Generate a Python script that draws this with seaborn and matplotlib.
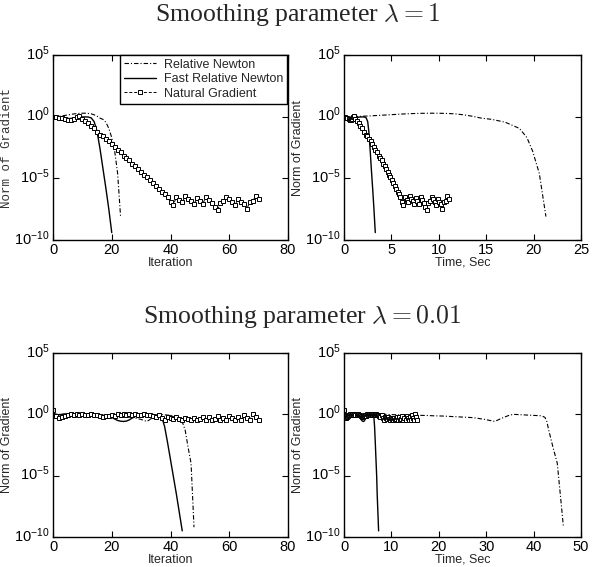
import numpy as np
import pandas as pd
import seaborn as sns
import matplotlib
matplotlib.use("Agg")
import matplotlib.pyplot as plt
from matplotlib.ticker import NullLocator, FixedLocator
from matplotlib.transforms import ScaledTranslation

# ---------------- data (log10 of gradient norm) ----------------
# lambda = 1
rn1_log = [0, 0.01, 0.03, 0.06, 0.1, 0.14, 0.18, 0.22, 0.25, 0.27, 0.28, 0.28, 0.26, 0.23,
           0.15, 0.04, -0.12, -0.22, -0.45, -0.95, -1.7, -2.8, -4.6, -8.1]
rn1_time = [0, 0.9, 1.8, 2.7, 3.6, 4.5, 5.4, 6.3, 7.2, 8.1, 9.0, 9.9, 10.8, 11.7,
            12.6, 13.5, 14.5, 15.6, 17.0, 18.5, 19.3, 19.9, 20.6, 21.3]
frn1_log = [0, -0.03, -0.06, -0.1, -0.13, -0.15, -0.15, -0.12, -0.06, -0.03, -0.02,
            -0.02, -0.03, -0.1, -0.4, -1.2, -2.6, -4.2, -5.8, -7.5, -9.4]
frn1_time = [0, 0.18, 0.36, 0.54, 0.72, 0.9, 1.08, 1.26, 1.44, 1.62, 1.8, 1.98, 2.16,
             2.34, 2.5, 2.62, 2.75, 2.88, 3.02, 3.16, 3.3]
ng1_log = [0, -0.05, -0.08, -0.12, -0.2, -0.25, -0.3, -0.2, -0.05, 0.05, -0.15, -0.35,
           -0.55, -0.75, -0.95, -1.25, -1.45, -1.6, -1.8, -2.0, -2.25, -2.45, -2.7, -2.9,
           -3.15, -3.35, -3.55, -3.8, -4.0, -4.25, -4.45, -4.7, -4.9, -5.15, -5.4, -5.6,
           -5.85, -6.1, -6.3, -6.55, -6.9, -7.15, -6.5, -6.75, -6.95, -6.45, -6.7, -6.85,
           -7.1, -6.6, -6.85, -7.05, -6.55, -6.75, -7.0, -7.3, -7.6, -7.0, -6.85, -6.55,
           -6.7, -6.9, -7.15, -6.65, -6.95, -7.1, -7.45, -6.95, -6.85, -6.45, -6.65]
ng1_time = [0, 0.12, 0.24, 0.36, 0.48, 0.6, 0.72, 0.84, 0.96, 1.08, 1.2,
            1.38, 1.56, 1.74, 1.92, 2.1, 2.28, 2.46, 2.64, 2.82, 3.0,
            3.16, 3.32, 3.48, 3.64, 3.8, 3.96, 4.12, 4.28, 4.44, 4.6,
            4.75, 4.9, 5.05, 5.2, 5.35, 5.5, 5.65, 5.8, 5.95, 6.1,
            6.27, 6.43, 6.6, 6.76, 6.93, 7.09, 7.26, 7.42, 7.59, 7.75,
            7.92, 8.08, 8.25, 8.41, 8.58, 8.74, 8.91, 9.07, 9.24, 9.4,
            9.57, 9.73, 9.9, 10.06, 10.23, 10.39, 10.56, 10.72, 10.89, 11.05]

# lambda = 0.01
rn2_log = [0.1, 0.02, 0.0, 0.0, 0.02, 0.02, 0.02, 0.01, 0.0, 0.0, -0.02, -0.03, -0.04,
           -0.05, -0.06, -0.07, -0.08, -0.09, -0.1, -0.12, -0.13, -0.14, -0.16, -0.18,
           -0.2, -0.22, -0.24, -0.26, -0.3, -0.36, -0.42, -0.5, -0.58, -0.42, -0.25, -0.1,
           0.0, -0.02, -0.04, -0.06, -0.08, -0.1, -0.12, -0.25, -0.6, -1.3, -2.7, -4.0, -9.2]
rn2_time = [0, 1.0, 2.0, 3.0, 4.0, 5.0, 6.0, 6.9, 7.9, 8.9, 9.9, 10.9, 11.9, 12.9, 13.9,
            14.9, 15.9, 16.9, 17.9, 18.9, 19.9, 20.9, 21.8, 22.8, 23.8, 24.8, 25.8, 26.8,
            27.8, 28.8, 29.8, 30.8, 31.8, 32.7, 33.7, 34.7, 35.7, 36.7, 37.7, 38.7, 39.7,
            40.7, 41.7, 42.4, 42.8, 43.2, 44.1, 45.0, 46.3]
frn2_log = [0.15, -0.1, -0.05, 0.0, 0.02, 0.0, 0.0, 0.02, 0.0, 0.0, 0.0, 0.0, -0.02, -0.02,
            0.0, -0.03, -0.05, -0.08, -0.1, -0.15, -0.25, -0.38, -0.5, -0.56, -0.58, -0.55,
            -0.45, -0.3, -0.15, -0.05, 0.0, 0.0, 0.0, 0.0, -0.02, -0.05, -0.1, -0.2, -1.0,
            -2.3, -3.7, -5.1, -6.5, -8.0, -9.5]
frn2_time = [0, 0.17, 0.34, 0.51, 0.68, 0.85, 1.02, 1.19, 1.36, 1.53, 1.7, 1.87, 2.04,
             2.21, 2.38, 2.55, 2.72, 2.89, 3.06, 3.23, 3.4, 3.57, 3.74, 3.91, 4.08, 4.25,
             4.42, 4.59, 4.76, 4.93, 5.1, 5.27, 5.44, 5.61, 5.78, 5.95, 6.12, 6.3, 6.45,
             6.6, 6.75, 6.9, 7.0, 7.15, 7.3]
ng2_log = [0.35, -0.1, -0.3, -0.25, -0.1, -0.05, 0.0, -0.05, 0.0, -0.02, 0.0, -0.05, -0.02,
           0.0, -0.05, -0.02, -0.1, -0.2, -0.1, -0.15, -0.05, -0.1, 0.0, -0.05, 0.0, -0.02,
           0.0, -0.05, 0.0, -0.02, -0.05, 0.0, -0.05, -0.02, -0.1, -0.25, -0.05, -0.3,
           -0.45, -0.2, -0.3, -0.4, -0.2, -0.35, -0.45, -0.3, -0.4, -0.45, -0.3, -0.5,
           -0.35, -0.2, -0.45, -0.25, -0.5, -0.4, -0.15, -0.45, -0.3, -0.5, -0.1, -0.3,
           -0.45, -0.2, -0.45, -0.05, -0.3, -0.45, 0.0, -0.2, -0.45]
ng2_time = [0, 0.22, 0.44, 0.66, 0.88, 1.1, 1.32, 1.54, 1.76, 1.98, 2.2, 2.42, 2.64, 2.86,
            3.08, 3.3, 3.52, 3.74, 3.96, 4.18, 4.4, 4.62, 4.84, 5.06, 5.28, 5.5, 5.72, 5.94,
            6.16, 6.38, 6.6, 6.82, 7.04, 7.26, 7.48, 7.7, 7.92, 8.14, 8.36, 8.58, 8.8, 9.02,
            9.24, 9.46, 9.68, 9.9, 10.12, 10.34, 10.56, 10.78, 11.0, 11.22, 11.44, 11.66,
            11.88, 12.1, 12.32, 12.54, 12.76, 12.98, 13.2, 13.42, 13.64, 13.86, 14.08,
            14.3, 14.52, 14.74, 14.96, 15.18, 15.5]

labels = ["Relative Newton", "Fast Relative Newton", "Natural Gradient"]
titles = ["Smoothing parameter $\\lambda = 1$", "Smoothing parameter $\\lambda = 0.01$"]
yticks = [1e-10, 1e-5, 1e0, 1e5]

# ---------------- style ----------------
sns.set_style("ticks")
plt.rcParams.update({
    "font.family": ["Liberation Sans", "DejaVu Sans"],
    "mathtext.fontset": "custom",
    "mathtext.rm": "Liberation Sans",
    "mathtext.it": "Liberation Sans:italic",
    "mathtext.bf": "Liberation Sans:bold",
    "xtick.direction": "in",
    "ytick.direction": "in",
    "xtick.top": True,
    "ytick.right": True,
    "xtick.major.size": 4,
    "ytick.major.size": 4,
    "xtick.major.width": 0.8,
    "ytick.major.width": 0.8,
    "xtick.major.pad": 2,
    "ytick.major.pad": 2.5,
    "axes.linewidth": 1.0,
    "axes.edgecolor": "black",
    "xtick.color": "black",
    "ytick.color": "black",
    "xtick.labelsize": 10.5,
    "ytick.labelsize": 10.5,
})

fig = plt.figure(figsize=(5.95, 5.67), dpi=100)
W, H = 595.0, 567.0

def add_ax(left, top, right, bottom):
    return fig.add_axes([left / W, 1 - bottom / H, (right - left) / W, (bottom - top) / H])

ax_tl = add_ax(53, 55, 288, 240)
ax_tr = add_ax(344, 55, 581, 240)
ax_bl = add_ax(53, 353, 288, 537)
ax_br = add_ax(344, 353, 581, 537)

rn_kw = dict(color="black", linewidth=0.8, linestyle=(0, (4, 1.8, 1, 1.8)))
frn_kw = dict(color="black", linewidth=1.0, linestyle="-")
ng_kw = dict(color="black", linewidth=0.7, linestyle=(0, (3, 2)), marker="s",
             markersize=3.4, markerfacecolor="white", markeredgecolor="black",
             markeredgewidth=0.7)

def series(xv, logv):
    return pd.DataFrame({"x": xv, "y": 10.0 ** np.asarray(logv, dtype=float)})

def draw(ax, rn_x, rn_l, frn_x, frn_l, ng_x, ng_l, with_label):
    sns.lineplot(data=series(rn_x, rn_l), x="x", y="y", ax=ax, sort=False, estimator=None,
                 label=labels[0] if with_label else None, legend=False, **rn_kw)
    sns.lineplot(data=series(frn_x, frn_l), x="x", y="y", ax=ax, sort=False, estimator=None,
                 label=labels[1] if with_label else None, legend=False, **frn_kw)
    sns.lineplot(data=series(ng_x, ng_l), x="x", y="y", ax=ax, sort=False, estimator=None,
                 label=labels[2] if with_label else None, legend=False, **ng_kw)

draw(ax_tl, list(range(len(rn1_log))), rn1_log, list(range(len(frn1_log))), frn1_log,
     list(range(len(ng1_log))), ng1_log, True)
draw(ax_tr, rn1_time, rn1_log, frn1_time, frn1_log, ng1_time, ng1_log, False)
draw(ax_bl, list(range(len(rn2_log))), rn2_log, list(range(len(frn2_log))), frn2_log,
     list(range(len(ng2_log))), ng2_log, False)
draw(ax_br, rn2_time, rn2_log, frn2_time, frn2_log, ng2_time, ng2_log, False)

xsets = [(ax_tl, 80, [0, 20, 40, 60, 80], "Iteration"),
         (ax_tr, 25, [0, 5, 10, 15, 20, 25], "Time, Sec"),
         (ax_bl, 80, [0, 20, 40, 60, 80], "Iteration"),
         (ax_br, 50, [0, 10, 20, 30, 40, 50], "Time, Sec")]
for ax, xmax, xt, xl in xsets:
    ax.set_yscale("log")
    ax.set_ylim(1e-10, 1e5)
    ax.set_xlim(0, xmax)
    ax.yaxis.set_major_locator(FixedLocator(yticks))
    ax.yaxis.set_minor_locator(NullLocator())
    ax.set_xticks(xt)
    ax.set_xlabel(xl, fontsize=9, labelpad=0)
    ax.set_ylabel("Norm of Gradient", fontsize=9, labelpad=1)
    for sp in ax.spines.values():
        sp.set_visible(True)
        sp.set_color("black")
    ax.set_facecolor("white")

ax_tl.set_ylabel("Norm of Gradient", fontsize=9, labelpad=1,
                 family=["Liberation Mono", "DejaVu Sans Mono"], color="#333333")

leg = ax_tl.legend(loc="upper right", bbox_to_anchor=(0.995, 1.0), borderaxespad=0,
                   fontsize=9, frameon=True, fancybox=False, framealpha=1,
                   edgecolor="black", handlelength=2.6, labelspacing=0.2,
                   borderpad=0.3, handletextpad=0.6)
leg.get_frame().set_linewidth(1.0)

fig.canvas.draw()
off = ScaledTranslation(0, 2.2 / 72, fig.dpi_scale_trans)
for ax in [ax_tl, ax_tr, ax_bl, ax_br]:
    for t in ax.yaxis.get_major_ticks():
        t.label1.set_transform(t.label1.get_transform() + off)

fig.text(298 / W, 1 - 21 / H, titles[0], ha="center", va="baseline", fontsize=18.5,
         family="Liberation Serif", math_fontfamily="cm")
fig.text(302 / W, 1 - 323 / H, titles[1], ha="center", va="baseline", fontsize=18.5,
         family="Liberation Serif", math_fontfamily="cm")

fig.savefig("out.png", dpi=100, facecolor="white")
